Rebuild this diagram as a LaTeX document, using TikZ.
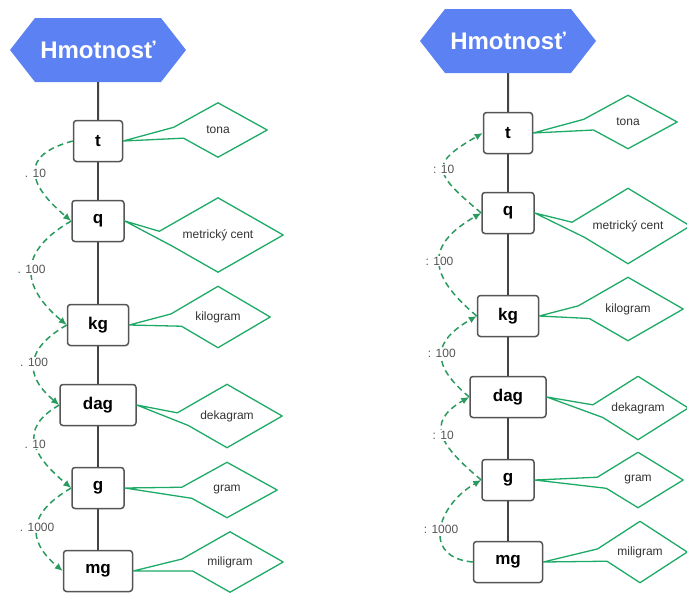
\documentclass[tikz,border=0pt]{standalone}
\usepackage{fontspec}
\setmainfont{Liberation Sans}
\usepackage{tikz}
\usetikzlibrary{arrows.meta,shapes.geometric,shapes.symbols,calc}
\definecolor{hexblue}{HTML}{5B81F2}
\definecolor{calloutgreen}{HTML}{1DAA66}
\definecolor{arrowgreen}{HTML}{2A9A5E}
\definecolor{boxgray}{HTML}{555555}
\definecolor{spinegray}{HTML}{444444}
\definecolor{factorgray}{HTML}{555555}
\tikzset{
  titlehex/.style={
    signal, signal to=east and west, signal pointer angle=104,
    fill=hexblue, draw=none, text=white, inner sep=0pt,
    font=\fontsize{24}{27}\selectfont\bfseries,
    minimum width=176pt, minimum height=64pt
  },
  unitbox/.style={
    rectangle, rounded corners=3pt, draw=boxgray, line width=1.5pt,
    fill=white, inner sep=0pt, minimum height=41pt,
    font=\fontsize{17}{20}\selectfont\bfseries
  },
  namediamond/.style={
    diamond, aspect=2, draw=none, inner sep=0pt,
    font=\fontsize{12}{14}\selectfont, text=black!80
  },
  callout/.style={
    draw=calloutgreen, line width=1.3pt, line join=round
  },
  convarrow/.style={
    -{Latex[length=8pt,width=7pt]}, dash pattern=on 6pt off 4pt,
    draw=arrowgreen, line width=1.5pt
  },
  factor/.style={
    fill=white, inner sep=1pt, font=\fontsize{12}{14}\selectfont,
    text=factorgray
  },
  spine/.style={draw=spinegray, line width=2pt},
}

\begin{document}
\begin{tikzpicture}[x=1pt,y=-1pt]
  \useasboundingbox (0,0) rectangle (687,592);

  % left column: multiplying down
  \node[titlehex] (hmotL) at (98,50) {Hmotnosť};
  \node[unitbox, minimum width=49pt] (tL) at (98,141) {t};
  \node[unitbox, minimum width=52pt] (qL) at (98,221) {q};
  \node[unitbox, minimum width=61pt] (kgL) at (98,325) {kg};
  \node[unitbox, minimum width=76pt] (dagL) at (98,405) {dag};
  \node[unitbox, minimum width=52pt] (gL) at (98,488) {g};
  \node[unitbox, minimum width=69pt] (mgL) at (98,571) {mg};

  \node[namediamond, minimum width=98pt, minimum height=54pt] (tonaL) at (218,130) {tona};
  \node[namediamond, minimum width=130pt, minimum height=74pt] (centL) at (218,235) {metrický cent};
  \node[namediamond, minimum width=104pt, minimum height=61pt] (kilogramL) at (218,317) {kilogram};
  \node[namediamond, minimum width=110pt, minimum height=63pt] (dekagramL) at (227,416) {dekagram};
  \node[namediamond, minimum width=100pt, minimum height=55pt] (gramL) at (227,490) {gram};
  \node[namediamond, minimum width=106pt, minimum height=60pt] (miligramL) at (230,562) {miligram};

  % right column: dividing up
  \node[titlehex] (hmotR) at (508,41) {Hmotnosť};
  \node[unitbox, minimum width=49pt] (tR) at (508,133) {t};
  \node[unitbox, minimum width=52pt] (qR) at (508,213) {q};
  \node[unitbox, minimum width=61pt] (kgR) at (508,316) {kg};
  \node[unitbox, minimum width=76pt] (dagR) at (508,397) {dag};
  \node[unitbox, minimum width=52pt] (gR) at (508,480) {g};
  \node[unitbox, minimum width=69pt] (mgR) at (508,562) {mg};

  \node[namediamond, minimum width=98pt, minimum height=53pt] (tonaR) at (628,122) {tona};
  \node[namediamond, minimum width=124pt, minimum height=75pt] (centR) at (628,226) {metrický cent};
  \node[namediamond, minimum width=110pt, minimum height=63pt] (kilogramR) at (628,309) {kilogram};
  \node[namediamond, minimum width=100pt, minimum height=63pt] (dekagramR) at (638,408) {dekagram};
  \node[namediamond, minimum width=90pt, minimum height=55pt] (gramR) at (638,480) {gram};
  \node[namediamond, minimum width=94pt, minimum height=61pt] (miligramR) at (640,552) {miligram};

  % spines
  \foreach \a/\b in {hmotL/tL,tL/qL,qL/kgL,kgL/dagL,dagL/gL,gL/mgL,
                     hmotR/tR,tR/qR,qR/kgR,kgR/dagR,dagR/gR,gR/mgR}
    \draw[spine] (\a) -- (\b);

  % callouts
  \foreach \b/\d in {tL/tonaL,qL/centL,kgL/kilogramL,dagL/dekagramL,gL/gramL,mgL/miligramL,
                     tR/tonaR,qR/centR,kgR/kilogramR,dagR/dekagramR,gR/gramR,mgR/miligramR}
    \draw[callout] (\b.east) -- ($(\d.west)!0.1!(\d.north)$) -- (\d.north)
      -- (\d.east) -- (\d.south) -- ($(\d.west)!0.3!(\d.south)$) -- cycle;

  % conversion arrows
  \draw[convarrow] (tL.west) to[out=195,in=140,looseness=1.8] node[factor] {. 10} (qL.west);
  \draw[convarrow] (qL.west) to[out=210,in=140,looseness=1.5] node[factor] {. 100} (kgL.west);
  \draw[convarrow] (kgL.west) to[out=210,in=140,looseness=1.5] node[factor] {. 100} (dagL.west);
  \draw[convarrow] (dagL.west) to[out=210,in=140,looseness=1.5] node[factor] {. 10} (gL.west);
  \draw[convarrow] (gL.west) to[out=210,in=140,looseness=1.5] node[factor] {. 1000} (mgL.west);

  \draw[convarrow] (qR.west) to[out=140,in=210,looseness=2] node[factor] {: 10} (tR.west);
  \draw[convarrow] (kgR.west) to[out=140,in=210,looseness=1.6] node[factor] {: 100} (qR.west);
  \draw[convarrow] (dagR.west) to[out=140,in=210,looseness=1.6] node[factor] {: 100} (kgR.west);
  \draw[convarrow] (gR.west) to[out=140,in=210,looseness=1.6] node[factor] {: 10} (dagR.west);
  \draw[convarrow] (mgR.west) to[out=175,in=210,looseness=1.6] node[factor] {: 1000} (gR.west);
\end{tikzpicture}
\end{document}
